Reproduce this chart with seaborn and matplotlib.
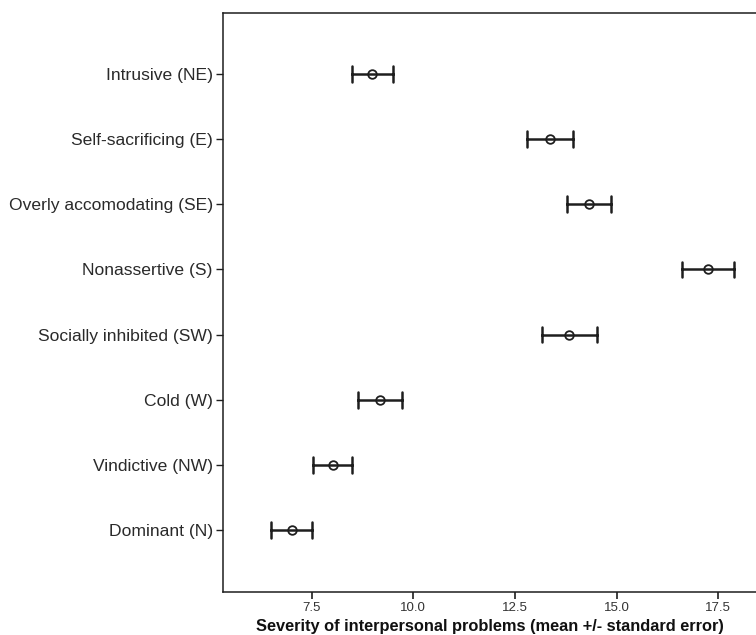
import numpy as np
import pandas as pd
import matplotlib
matplotlib.use("Agg")
import matplotlib.pyplot as plt
import seaborn as sns

categories = ["Intrusive (NE)", "Self-sacrificing (E)", "Overly accomodating (SE)",
              "Nonassertive (S)", "Socially inhibited (SW)", "Cold (W)",
              "Vindictive (NW)", "Dominant (N)"]
means = [8.99, 13.36, 14.32, 17.25, 13.84, 9.18, 8.02, 7.01]
std_errors = [0.50, 0.57, 0.54, 0.63, 0.67, 0.54, 0.48, 0.50]
x_ticks = [7.5, 10.0, 12.5, 15.0, 17.5]
x_label = "Severity of interpersonal problems (mean +/- standard error)"

# rows: mean - se, mean, mean + se -> median = mean, 100% interval = +/- se
rows = []
for c, m, s in zip(categories, means, std_errors):
    for v in (m - s, m, m + s):
        rows.append({"category": c, "value": v})
df = pd.DataFrame(rows)

sns.set_style("white")
plt.rcParams["font.family"] = ["Liberation Sans", "DejaVu Sans"]

fig = plt.figure(figsize=(7.56, 6.35), dpi=100)
ax = fig.add_axes([0.2946, 0.0677, 0.708, 0.9123])

ink = "#1e1e1e"
sns.pointplot(data=df, x="value", y="category", order=categories, orient="h",
              estimator="median", errorbar=("pi", 100), capsize=0.24,
              linestyle="none", marker="o", color=ink,
              markerfacecolor="white", markeredgecolor=ink,
              markersize=6.2, markeredgewidth=1.3,
              err_kws={"linewidth": 1.8, "color": ink}, ax=ax)

ax.set_xlim(5.31, 18.48)
ax.set_ylim(7.95, -0.94)
ax.set_xticks(x_ticks)
ax.set_xticklabels([f"{t:.1f}" for t in x_ticks], fontsize=9.5, color="#333333")
ax.tick_params(axis="y", labelsize=12.6, labelcolor="#2a2a2a", length=5,
               width=1.0, color=ink, direction="out", left=True, pad=2)
ax.tick_params(axis="x", length=5, width=1.2, color=ink, direction="out",
               bottom=True, pad=2)
ax.set_ylabel("")
ax.set_xlabel(x_label, fontsize=11.8, fontweight="bold", color="#111111", labelpad=4)
for side in ["left", "bottom", "top"]:
    ax.spines[side].set_color(ink)
    ax.spines[side].set_linewidth(1.1)
ax.spines["right"].set_visible(False)
ax.grid(False)

fig.savefig("out.png", dpi=100)
